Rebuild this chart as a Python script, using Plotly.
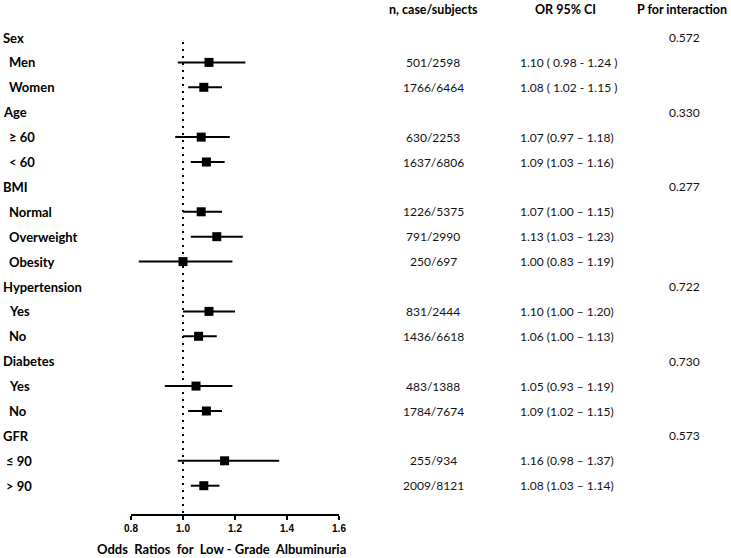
import plotly.graph_objects as go

# ---------------- data ----------------
group_names = ["Sex", "Age", "BMI", "Hypertension", "Diabetes", "GFR"]
group_sizes = [2, 2, 3, 2, 2, 2]
p_interaction = ["0.572", "0.330", "0.277", "0.722", "0.730", "0.573"]

sub_labels = ["Men", "Women", "≥ 60", "< 60", "Normal", "Overweight", "Obesity",
              "Yes", "No", "Yes", "No", "≤ 90", "> 90"]
or_vals = [1.10, 1.08, 1.07, 1.09, 1.07, 1.13, 1.00, 1.10, 1.06, 1.05, 1.09, 1.16, 1.08]
ci_low = [0.98, 1.02, 0.97, 1.03, 1.00, 1.03, 0.83, 1.00, 1.00, 0.93, 1.02, 0.98, 1.03]
ci_high = [1.24, 1.15, 1.18, 1.16, 1.15, 1.23, 1.19, 1.20, 1.13, 1.19, 1.15, 1.37, 1.14]
n_text = ["501/2598", "1766/6464", "630/2253", "1637/6806", "1226/5375", "791/2990",
          "250/697", "831/2444", "1436/6618", "483/1388", "1784/7674", "255/934", "2009/8121"]
or_text = ["1.10 ( 0.98 - 1.24 )", "1.08 ( 1.02 - 1.15 )", "1.07 (0.97 – 1.18)",
           "1.09 (1.03 – 1.16)", "1.07 (1.00 – 1.15)", "1.13 (1.03 – 1.23)",
           "1.00 (0.83 – 1.19)", "1.10 (1.00 – 1.20)", "1.06 (1.00 – 1.13)",
           "1.05 (0.93 – 1.19)", "1.09 (1.02 – 1.15)", "1.16 (0.98 – 1.37)",
           "1.08 (1.03 – 1.14)"]
tick_vals = [0.8, 1.0, 1.2, 1.4, 1.6]
tick_text = ["0.8", "1.0", "1.2", "1.4", "1.6"]
headers = ["n, case/subjects", "OR 95% CI", "P for interaction"]
x_title = "Odds\u00a0 Ratios\u00a0 for\u00a0 Low - Grade\u00a0 Albuminuria"

# ---------------- layout helpers ----------------
W, H = 731, 558
PL, PR = 131, 339          # plot area pixel extent (x)
PT, PB = 20, 514           # plot area pixel extent (y)
ROW0, ROWSTEP = 37.5, 24.9


def px(x):
    return (x - PL) / (PR - PL)


def py(y):
    return (PB - y) / (PB - PT)


y_top = (PT - ROW0) / ROWSTEP
y_bot = (PB - ROW0) / ROWSTEP

# row positions
group_rows, sub_rows, sub_is_gfr = [], [], []
r = 0
for g, n in zip(group_names, group_sizes):
    group_rows.append(r)
    r += 1
    for _ in range(n):
        sub_rows.append(r)
        sub_is_gfr.append(g == "GFR")
        r += 1

LABFONT = "Lato, Carlito, Calibri, sans-serif"
BOLD = dict(family=LABFONT, size=13, color="black", weight="bold")
HEAD = dict(family=LABFONT, size=12.5, color="black", weight="bold")
REG = dict(family=LABFONT, size=12, color="#111111")

fig = go.Figure()
fig.add_trace(go.Scatter(
    x=or_vals, y=sub_rows, mode="markers",
    marker=dict(symbol="square", size=9, color="black"),
    error_x=dict(type="data", symmetric=False,
                 array=[h - o for h, o in zip(ci_high, or_vals)],
                 arrayminus=[o - l for o, l in zip(or_vals, ci_low)],
                 color="black", thickness=2, width=0),
    showlegend=False, hoverinfo="skip"))

annotations = []
for g, row, p in zip(group_names, group_rows, p_interaction):
    annotations.append(dict(text=g, x=px(1), y=row, xref="paper", yref="y",
                            xanchor="left", yanchor="middle", showarrow=False, font=BOLD))
    annotations.append(dict(text=p, x=px(684), y=row, xref="paper", yref="y",
                            xanchor="center", yanchor="middle", showarrow=False, font=REG))
for lab, row, gfr, nt, ot in zip(sub_labels, sub_rows, sub_is_gfr, n_text, or_text):
    annotations.append(dict(text=lab, x=px(4 if gfr else 7), y=row, xref="paper", yref="y",
                            xanchor="left", yanchor="middle", showarrow=False, font=BOLD))
    annotations.append(dict(text=nt, x=px(433), y=row, xref="paper", yref="y",
                            xanchor="center", yanchor="middle", showarrow=False, font=REG))
    annotations.append(dict(text=ot, x=px(518), y=row, xref="paper", yref="y",
                            xanchor="left", yanchor="middle", showarrow=False, font=REG))
for htxt, hx in zip(headers, [433, 565, 682]):
    annotations.append(dict(text=htxt, x=px(hx), y=py(10), xref="paper", yref="paper",
                            xanchor="center", yanchor="middle", showarrow=False, font=HEAD))
annotations.append(dict(text=x_title, x=px(221), y=py(549), xref="paper", yref="paper",
                        xanchor="center", yanchor="middle", showarrow=False, font=BOLD))

fig.update_layout(
    width=W, height=H,
    margin=dict(l=PL, r=W - PR, t=PT, b=H - PB, pad=0),
    paper_bgcolor="white", plot_bgcolor="white",
    annotations=annotations,
    shapes=[dict(type="line", xref="x", yref="y", x0=1.0, x1=1.0,
                 y0=(42 - ROW0) / ROWSTEP, y1=y_bot,
                 line=dict(color="black", width=2, dash="2px,5px"))],
    xaxis=dict(range=[0.8, 1.6], showgrid=False, zeroline=False, showline=True,
               linecolor="black", linewidth=1.5, ticks="outside", ticklen=4,
               tickwidth=1.5, tickcolor="black", tickvals=tick_vals, ticktext=tick_text,
               tickfont=dict(family="Liberation Sans Narrow, Arial Narrow, sans-serif",
                             size=10, color="black", weight="bold")),
    yaxis=dict(range=[y_bot, y_top], visible=False, showgrid=False, zeroline=False),
)

fig.write_html("out.html", config={"displayModeBar": False},
               post_script="document.body.style.margin='0';document.body.style.overflow='hidden';")
